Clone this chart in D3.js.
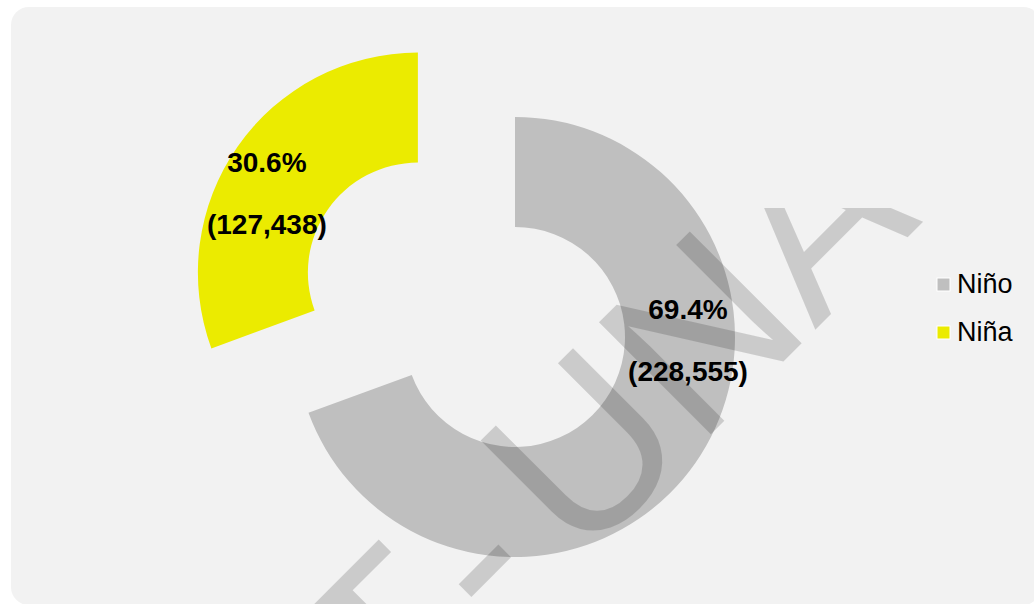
<!DOCTYPE html>
<html>
<head>
<meta charset="utf-8">
<script src="https://cdn.jsdelivr.net/npm/d3@7"></script>
<style>
  body { margin: 0; background: #ffffff; }
  svg { display: block; font-family: Arial, "Liberation Sans", sans-serif; }
</style>
</head>
<body>
<div id="chart"></div>
<script>
// Chart data
const categories = ["Niño", "Niña"];
const percents = [69.4, 30.6];
const counts = [228555, 127438];
const colors = ["#bfbfbf", "#ebeb00"];

const width = 1034,
  height = 604;
const cx = 515,
  cy = 337;
const outerR = 220,
  innerR = 110;

// Niña slice is pulled out of the ring
const explode = [0, 116];
// where the data labels sit (angle in degrees clockwise from 12 o'clock, radius)
const labelAngle = [90.5, 298];
const labelRadius = [173, 171];

const svg = d3
  .select("#chart")
  .append("svg")
  .attr("width", width)
  .attr("height", height);

// card background
svg
  .append("rect")
  .attr("x", 11)
  .attr("y", 7)
  .attr("width", 1030)
  .attr("height", 598)
  .attr("rx", 18)
  .attr("fill", "#f2f2f2");

const pie = d3
  .pie()
  .sort(null)
  .value((d) => d);
const arcGen = d3.arc().innerRadius(innerR).outerRadius(outerR);

const slices = pie(percents);

const g = svg.append("g").attr("transform", `translate(${cx},${cy})`);

const sliceG = g
  .selectAll("g.slice")
  .data(slices)
  .enter()
  .append("g")
  .attr("class", "slice")
  .attr("transform", (d, i) => {
    const mid = (d.startAngle + d.endAngle) / 2;
    const off = explode[i];
    return `translate(${off * Math.sin(mid) - (i ? 2 : 0)},${-off * Math.cos(mid) + (i ? 2 : 0)})`;
  });

sliceG
  .append("path")
  .attr("d", arcGen)
  .attr("fill", (d, i) => colors[i]);

// data labels: percent and (count)
const fmt = d3.format(",");
const labels = sliceG
  .append("text")
  .attr("transform", (d, i) => {
    const a = (labelAngle[i] * Math.PI) / 180;
    return `translate(${labelRadius[i] * Math.sin(a)},${-labelRadius[i] * Math.cos(a)})`;
  })
  .attr("text-anchor", "middle")
  .style("font-size", "28px")
  .style("font-weight", "bold")
  .attr("fill", "#000");

labels
  .append("tspan")
  .attr("x", 0)
  .attr("y", -20)
  .text((d, i) => percents[i].toFixed(1) + "%");

labels
  .append("tspan")
  .attr("x", 0)
  .attr("y", 42)
  .text((d, i) => "(" + fmt(counts[i]) + ")");

// legend
const legend = svg
  .append("g")
  .selectAll("g")
  .data(categories)
  .enter()
  .append("g")
  .attr("transform", (d, i) => `translate(937,${278 + i * 48})`);

legend
  .append("rect")
  .attr("width", 13)
  .attr("height", 13)
  .attr("fill", (d, i) => colors[i])
  .attr("stroke", "#ffffff")
  .attr("stroke-width", 1);

legend
  .append("text")
  .attr("x", 20)
  .attr("y", 15)
  .style("font-size", "27px")
  .attr("fill", "#000")
  .text((d) => d);

// watermark over the picture
svg
  .append("clipPath")
  .attr("id", "wm-clip")
  .append("rect")
  .attr("x", 0)
  .attr("y", 208)
  .attr("width", width)
  .attr("height", height - 208);

const wm = svg
  .append("g")
  .attr("clip-path", "url(#wm-clip)")
  .attr("fill", "#000")
  .attr("fill-opacity", 0.16)
  .style("font-size", "230px");

const wmLeft = wm
  .append("text")
  .attr("transform", "translate(395,747) rotate(-45)");
wmLeft.append("tspan").text("T");
wmLeft.append("tspan").attr("dx", 22).text("-");

wm.append("text")
  .attr("transform", "translate(580,565) rotate(-45)")
  .text("UNA");
</script>
</body>
</html>
